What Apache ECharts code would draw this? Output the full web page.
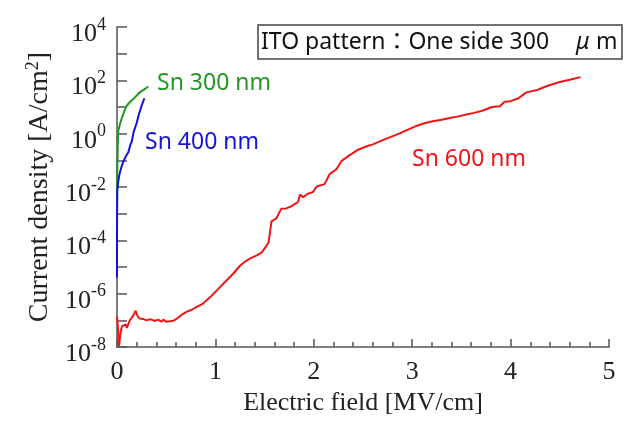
<!DOCTYPE html>
<html>
<head>
<meta charset="utf-8">
<script src="https://cdn.jsdelivr.net/npm/echarts@6/dist/echarts.min.js"></script>
<style>
  html, body { margin: 0; padding: 0; background: #fff; }
  #chart { width: 631px; height: 421px; }
</style>
</head>
<body>
<div id="chart"></div>
<script>
  // electric field [MV/cm] and log10 of current density [A/cm2]
  const sn300Field = [0, 0.002, 0.006, 0.013, 0.03, 0.048, 0.075, 0.1, 0.13, 0.166, 0.2, 0.234, 0.28, 0.318]
  const sn300LogJ = [-2.3, -1.6, -0.9, 0.08, 0.35, 0.57, 0.85, 1.05, 1.18, 1.3, 1.43, 1.55, 1.67, 1.77]

  const sn400Field = [0, 0, 0.001, 0.003, 0.012, 0.025, 0.045, 0.066, 0.08, 0.1, 0.115, 0.135, 0.15, 0.17, 0.2, 0.22, 0.25, 0.278]
  const sn400LogJ = [-5.4, -4.0, -3.0, -2.13, -1.8, -1.52, -1.25, -1.03, -1.05, -0.78, -0.7, -0.42, -0.3, 0.08, 0.4, 0.69, 1.05, 1.33]

  const sn600Field = [0, 0.01, 0.02, 0.035, 0.05, 0.07, 0.09, 0.1, 0.13, 0.16, 0.19, 0.21, 0.23, 0.27, 0.3, 0.34, 0.38, 0.42, 0.45, 0.47, 0.5, 0.54, 0.58, 0.62, 0.66, 0.71, 0.76, 0.81, 0.86, 0.894, 0.96, 1.047, 1.1, 1.18, 1.25, 1.3, 1.35, 1.41, 1.47, 1.54, 1.57, 1.62, 1.67, 1.72, 1.76, 1.84, 1.86, 1.89, 1.94, 1.99, 2.03, 2.11, 2.16, 2.23, 2.28, 2.35, 2.45, 2.54, 2.6, 2.67, 2.77, 2.88, 2.91, 3.05, 3.13, 3.21, 3.3, 3.38, 3.47, 3.55, 3.63, 3.72, 3.81, 3.89, 3.94, 4.0, 4.08, 4.16, 4.27, 4.37, 4.5, 4.6, 4.71]
  const sn600LogJ = [-6.85, -7.3, -7.95, -7.5, -7.22, -7.25, -7.15, -7.28, -7.0, -6.85, -6.64, -6.85, -6.93, -6.95, -7.0, -6.95, -7.02, -6.97, -7.05, -6.97, -7.05, -7.03, -7.0, -6.9, -6.78, -6.67, -6.6, -6.49, -6.4, -6.3, -6.08, -5.75, -5.55, -5.25, -4.95, -4.8, -4.68, -4.58, -4.46, -4.09, -3.29, -3.17, -2.81, -2.8, -2.74, -2.56, -2.28, -2.38, -2.25, -2.19, -1.98, -1.89, -1.52, -1.33, -1.03, -0.84, -0.6, -0.47, -0.4, -0.29, -0.14, 0.02, 0.08, 0.3, 0.4, 0.47, 0.52, 0.59, 0.65, 0.72, 0.78, 0.87, 1.0, 1.03, 1.2, 1.22, 1.33, 1.55, 1.64, 1.79, 1.94, 2.02, 2.12]

  const xTicks = [0, 1, 2, 3, 4, 5]
  const yExpTicks = [-8, -6, -4, -2, 0, 2, 4]

  const serif = '"Liberation Serif", "Times New Roman", serif'
  const sans = '"Noto Sans", "Noto Sans CJK JP", sans-serif'

  const pair = (xs, ys) => xs.map((x, i) => [x, ys[i]])

  const chart = echarts.init(document.getElementById('chart'), null, { renderer: 'canvas' })

  chart.setOption({
    animation: false,
    backgroundColor: '#fff',
    grid: { left: 117, right: 22, top: 27, bottom: 68 },
    xAxis: {
      type: 'value',
      min: xTicks[0],
      max: xTicks[xTicks.length - 1],
      interval: 1,
      name: 'Electric field [MV/cm]',
      nameLocation: 'middle',
      nameGap: 38,
      nameTextStyle: { fontFamily: serif, fontSize: 26, color: '#222' },
      axisLine: { onZero: false, lineStyle: { color: '#555', width: 1.5 } },
      axisTick: { inside: true, length: 8, lineStyle: { color: '#555', width: 1.5 } },
      minorTick: { show: true, splitNumber: 5, length: 5, lineStyle: { color: '#555', width: 1.5 } },
      axisLabel: { fontFamily: serif, fontSize: 26, color: '#222', margin: 12 },
      splitLine: { show: false }
    },
    yAxis: {
      type: 'value',
      min: -8,
      max: 4,
      interval: 1,
      name: '{t|Current density [A/cm}{s|2}{t|]}',
      nameLocation: 'middle',
      nameGap: 58,
      nameRotate: 90,
      nameTextStyle: {
        rich: {
          t: { fontFamily: serif, fontSize: 28, color: '#222' },
          s: { fontFamily: serif, fontSize: 18, color: '#222', padding: [0, 0, 14, 0] }
        }
      },
      axisLine: { onZero: false, lineStyle: { color: '#555', width: 1.5 } },
      axisTick: { inside: true, length: 10, lineStyle: { color: '#555', width: 1.5 } },
      axisLabel: {
        margin: 11,
        formatter: v => yExpTicks.indexOf(v) >= 0 ? '{b|10}{s|' + v + '}' : '',
        rich: {
          b: { fontFamily: serif, fontSize: 26, color: '#222', padding: [14, 0, 0, 0] },
          s: { fontFamily: serif, fontSize: 18, color: '#222', padding: [0, 0, 4, 0] }
        }
      },
      splitLine: { show: false }
    },
    series: [
      {
        name: 'Sn 600 nm',
        type: 'line',
        data: pair(sn600Field, sn600LogJ),
        showSymbol: false,
        lineStyle: { color: '#f01414', width: 2 },
        z: 2
      },
      {
        name: 'Sn 300 nm',
        type: 'line',
        data: pair(sn300Field, sn300LogJ),
        showSymbol: false,
        smooth: 0.3,
        lineStyle: { color: '#1f9a1f', width: 2 },
        z: 3
      },
      {
        name: 'Sn 400 nm',
        type: 'line',
        data: pair(sn400Field, sn400LogJ),
        showSymbol: false,
        lineStyle: { color: '#1212e0', width: 2 },
        z: 4
      }
    ],
    graphic: [
      {
        type: 'rect',
        shape: { x: 258, y: 25, width: 364, height: 34 },
        style: { fill: '#fff', stroke: '#444', lineWidth: 1.5 }
      },
      {
        type: 'text',
        x: 261, y: 42,
        style: { text: 'ITO pattern：One side 300', font: '23px ' + sans, fill: '#111', verticalAlign: 'middle' }
      },
      {
        type: 'text',
        x: 576, y: 42,
        style: { text: 'μ', font: 'italic 23px ' + sans, fill: '#111', verticalAlign: 'middle' }
      },
      {
        type: 'text',
        x: 596, y: 42,
        style: { text: 'm', font: '23px ' + sans, fill: '#111', verticalAlign: 'middle' }
      },
      {
        type: 'text',
        x: 157, y: 83,
        style: { text: 'Sn 300 nm', font: '23px ' + sans, fill: '#1f9a1f', verticalAlign: 'middle' }
      },
      {
        type: 'text',
        x: 145, y: 142,
        style: { text: 'Sn 400 nm', font: '23px ' + sans, fill: '#1212e0', verticalAlign: 'middle' }
      },
      {
        type: 'text',
        x: 412, y: 159,
        style: { text: 'Sn 600 nm', font: '23px ' + sans, fill: '#f01414', verticalAlign: 'middle' }
      }
    ]
  })
</script>
</body>
</html>
